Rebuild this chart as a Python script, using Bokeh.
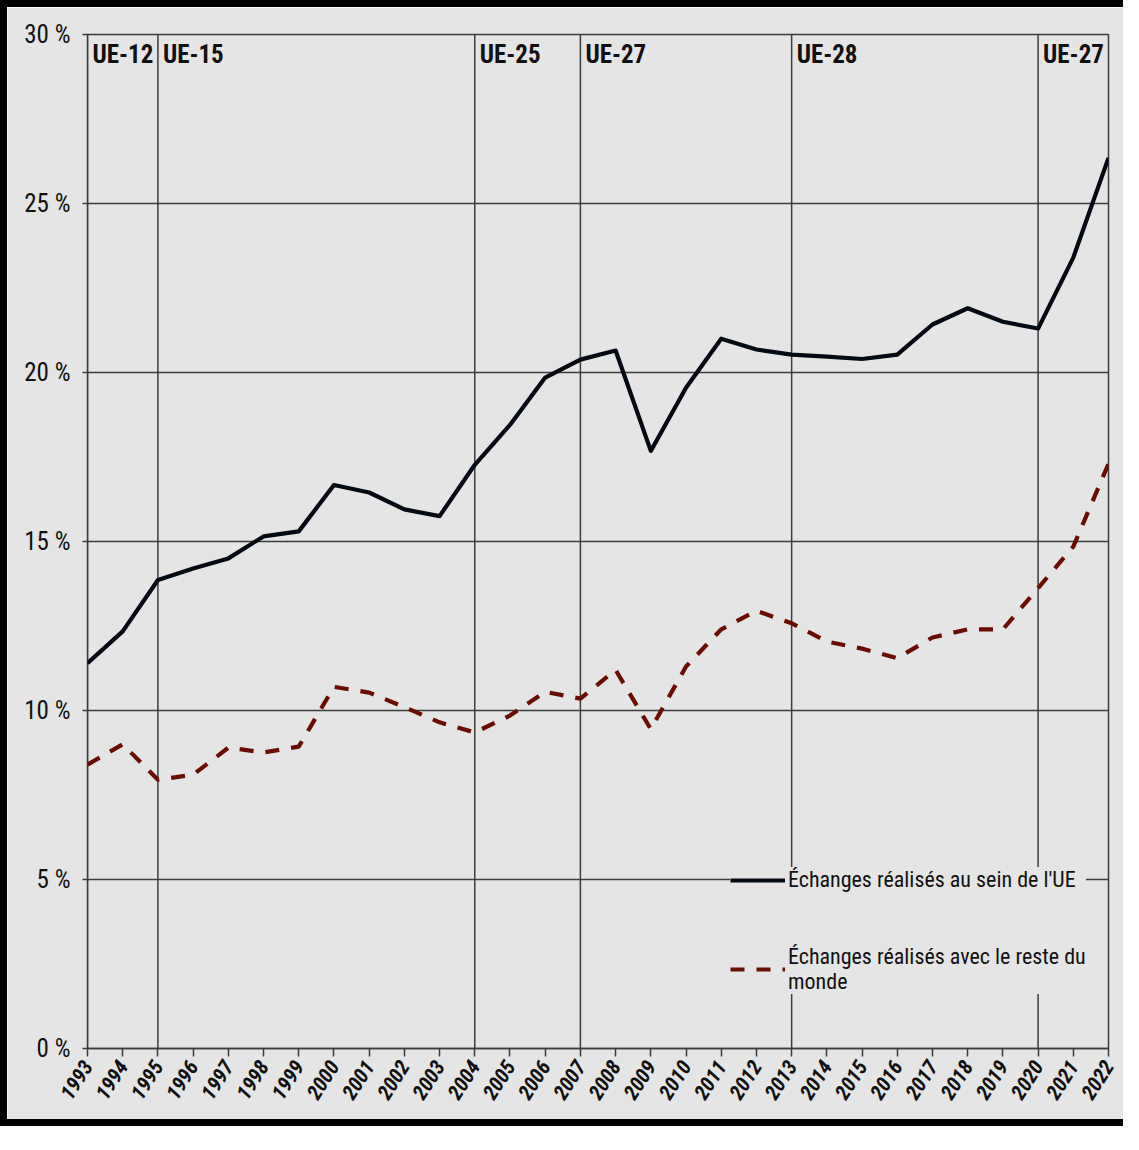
from bokeh.plotting import figure
from bokeh.models import (Range1d, FixedTicker, Span, Legend, LegendItem,
                          ColumnDataSource, CustomJSTickFormatter)
from bokeh.core.properties import value
from bokeh.embed import file_html
from bokeh.resources import INLINE

# ---- data ----
years = list(range(1993, 2023))
intra_ue = [11.4, 12.34, 13.86, 14.2, 14.5, 15.15, 15.3, 16.67, 16.45, 15.95,
            15.75, 17.27, 18.45, 19.85, 20.38, 20.65, 17.68, 19.55, 21.0, 20.68,
            20.53, 20.47, 20.4, 20.53, 21.42, 21.9, 21.5, 21.3, 23.4, 26.35]
extra_ue = [8.4, 9.0, 7.95, 8.1, 8.9, 8.76, 8.93, 10.7, 10.53, 10.1,
            9.65, 9.35, 9.85, 10.55, 10.35, 11.2, 9.45, 11.3, 12.4, 12.95,
            12.58, 12.04, 11.83, 11.55, 12.16, 12.4, 12.4, 13.62, 14.85, 17.3]
eu_years = [1993, 1995, 2004, 2007, 2013, 2020]
eu_labels = ["UE-12", "UE-15", "UE-25", "UE-27", "UE-28", "UE-27"]
y_ticks = [0, 5, 10, 15, 20, 25, 30]
legend_labels = ["Échanges réalisés au sein de l'UE",
                 "Échanges réalisés avec le reste du\nmonde"]

FONT = "'Liberation Sans Narrow', 'Arial Narrow', 'Roboto Condensed', 'Liberation Sans', sans-serif"
BG = "#e5e5e5"
GRID = "#3c3c3c"

p = figure(width=1123, height=1126, output_backend="svg", toolbar_location=None,
           x_range=Range1d(years[0], years[-1]), y_range=Range1d(y_ticks[0], y_ticks[-1]),
           background_fill_color=BG, border_fill_color=BG,
           min_border_left=80, min_border_right=22, min_border_top=27, min_border_bottom=85)
p.styles = {"border-left": "7px solid black", "border-top": "7px solid black",
            "border-bottom": "7px solid black"}

p.outline_line_color = GRID
p.outline_line_width = 1.5

# axes
p.xaxis.ticker = FixedTicker(ticks=years)
p.xaxis.major_label_orientation = 1.0
p.xaxis.major_label_text_font = FONT
p.xaxis.major_label_text_font_size = "21px"
p.xaxis.major_label_text_color = "#111111"
p.xaxis.major_label_text_font_style = "bold italic"
p.xaxis.axis_line_color = GRID
p.xaxis.axis_line_width = 1.5
p.xaxis.major_tick_line_color = GRID
p.xaxis.major_tick_line_width = 1.5
p.xaxis.major_tick_out = 8
p.xaxis.major_tick_in = 0
p.xaxis.minor_tick_line_color = None
p.xaxis.major_label_standoff = 6

p.yaxis.ticker = FixedTicker(ticks=y_ticks)
p.yaxis.formatter = CustomJSTickFormatter(code="return tick + ' %';")
p.yaxis.major_label_text_font = FONT
p.yaxis.major_label_text_font_size = "25px"
p.yaxis.major_label_text_color = "#111111"
p.yaxis.axis_line_color = None
p.yaxis.major_tick_line_color = GRID
p.yaxis.major_tick_line_width = 1.5
p.yaxis.major_tick_out = 5
p.yaxis.major_tick_in = 0
p.yaxis.minor_tick_line_color = None
p.yaxis.major_label_standoff = 12

p.xgrid.visible = False
p.ygrid.ticker = FixedTicker(ticks=y_ticks)
p.ygrid.grid_line_color = GRID
p.ygrid.grid_line_width = 1.5

# enlargement lines
for yr in eu_years:
    p.add_layout(Span(location=yr, dimension="height", line_color=GRID,
                      line_width=1.5, level="underlay"))

lab_src = ColumnDataSource(dict(x=eu_years, y=[y_ticks[-1]] * len(eu_years), t=eu_labels))
p.text(x="x", y="y", text="t", source=lab_src, x_offset=5, y_offset=5,
       text_baseline="top", text_align="left", text_font=value(FONT),
       text_font_size="25px", text_font_style="bold", text_color="#111111")

src = ColumnDataSource(dict(x=years, a=intra_ue, b=extra_ue))
r1 = p.line("x", "a", source=src, line_color="#050a12", line_width=4.2,
            line_join="round")
r2 = p.line("x", "b", source=src, line_color="#6a0d00", line_width=4.2,
            line_dash="14 12")

legend = Legend(items=[LegendItem(label=legend_labels[0], renderers=[r1]),
                       LegendItem(label=legend_labels[1], renderers=[r2])],
                location=(643, 54), orientation="vertical",
                background_fill_color=BG, background_fill_alpha=1.0,
                border_line_color=None,
                label_text_font=FONT, label_text_font_size="22px",
                label_text_color="#111111",
                glyph_width=55, glyph_height=22, spacing=52,
                padding=10, margin=0, label_standoff=3)
p.add_layout(legend, "center")

open("out.html", "w").write(file_html(p, INLINE))
